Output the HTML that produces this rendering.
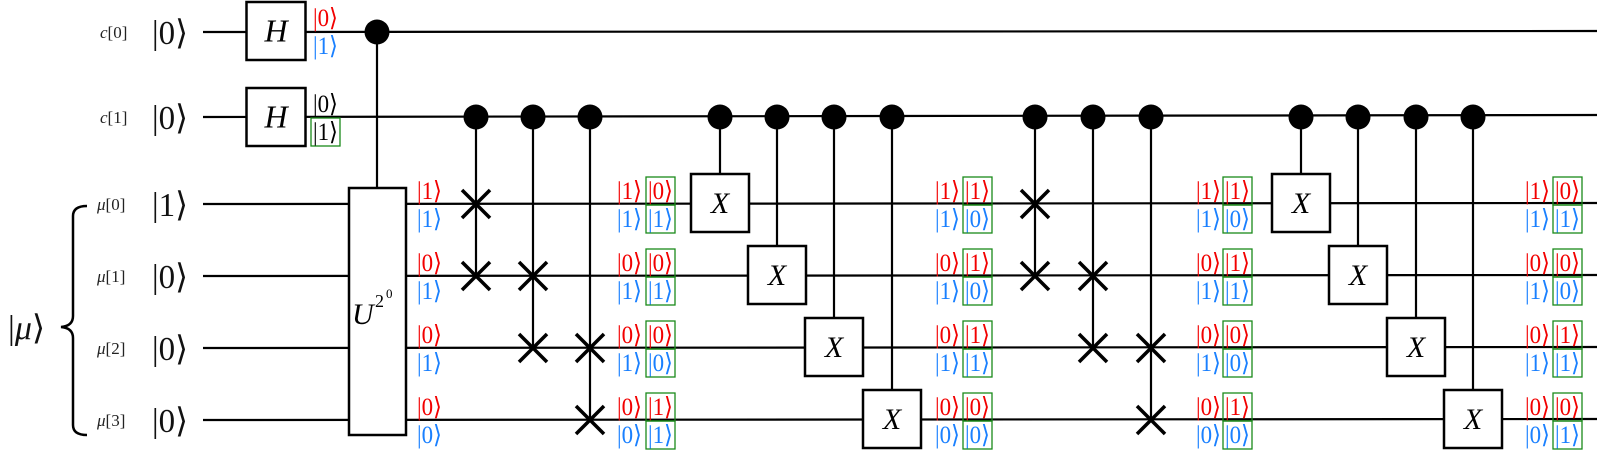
<!DOCTYPE html>
<html><head><meta charset="utf-8"><style>
html,body{margin:0;padding:0;background:#fff;width:1600px;height:450px;overflow:hidden}
svg text{font-family:"Liberation Serif","DejaVu Serif",serif}
</style></head><body>
<svg id="s" width="1600" height="450" xmlns="http://www.w3.org/2000/svg">
<g stroke="#000" stroke-width="2.2" fill="none">
<line x1="203" y1="32" x2="1597" y2="31"/>
<line x1="203" y1="117" x2="1597" y2="115"/>
<line x1="203" y1="204" x2="1597" y2="203"/>
<line x1="203" y1="276" x2="1597" y2="275"/>
<line x1="203" y1="348" x2="1597" y2="347"/>
<line x1="203" y1="420" x2="1597" y2="419"/>
<path d="M87 206 Q73 206 73 216 L73 316 Q73 326 61 327 Q73 328 73 338 L73 425 Q73 435 87 435" stroke-width="2.5"/>
</g>
<g font-size="17" fill="#222">
<text x="100" y="38"><tspan font-style="italic">c</tspan>[0]</text><text x="100" y="123"><tspan font-style="italic">c</tspan>[1]</text>
<text x="97" y="210"><tspan font-style="italic">μ</tspan>[0]</text><text x="97" y="282"><tspan font-style="italic">μ</tspan>[1]</text>
<text x="97" y="354"><tspan font-style="italic">μ</tspan>[2]</text><text x="97" y="426"><tspan font-style="italic">μ</tspan>[3]</text>
</g>
<g font-size="34" fill="#111">
<text x="152" y="44" textLength="36" lengthAdjust="spacingAndGlyphs">|0⟩</text><text x="152" y="129" textLength="36" lengthAdjust="spacingAndGlyphs">|0⟩</text>
<text x="152" y="216" textLength="36" lengthAdjust="spacingAndGlyphs">|1⟩</text><text x="152" y="288" textLength="36" lengthAdjust="spacingAndGlyphs">|0⟩</text>
<text x="152" y="360" textLength="36" lengthAdjust="spacingAndGlyphs">|0⟩</text><text x="152" y="432" textLength="36" lengthAdjust="spacingAndGlyphs">|0⟩</text>
<text x="8" y="339">|<tspan font-style="italic">μ</tspan>⟩</text>
</g>
<g id="g"></g>
</svg>
<script>
var g=document.getElementById('g'),NS='http://www.w3.org/2000/svg';
function el(t,a,txt){var e=document.createElementNS(NS,t);for(var k in a)e.setAttribute(k,a[k]);if(txt!=null)e.textContent=txt;g.appendChild(e);return e;}
var W=[32,117,204,276,348,420];
function box(cx,cy,w,h,lab,fs){el('rect',{x:cx-w/2,y:cy-h/2,width:w,height:h,fill:'#fff',stroke:'#000','stroke-width':2.5});
 el('text',{x:cx,y:cy+fs*0.33,'text-anchor':'middle','font-size':fs,'font-style':'italic'},lab);}
function line(x1,y1,x2,y2,sw){el('line',{x1:x1,y1:y1,x2:x2,y2:y2,stroke:'#000','stroke-width':sw||2.2});}
function dot(x,y){el('circle',{cx:x,cy:y,r:12.5,fill:'#000'});}
function sx(x,y){line(x-14,y-14,x+14,y+14,3.5);line(x-14,y+14,x+14,y-14,3.5);}
function ket(x,y,v,c,bx){if(bx)el('rect',{x:x,y:y-27,width:29,height:28,fill:'none',stroke:'#1a8a1a','stroke-width':1.3});
 el('text',{x:x+2,y:y-5,'font-size':25,fill:c,textLength:25,lengthAdjust:'spacingAndGlyphs'},'|'+v+'⟩');}
function pair(x,wy,a,b,bx){ket(x,wy,a,'#f20000',bx);ket(x,wy+28,b,'#1a80ff',bx);}
box(276,31,59,58,'H',32);box(276,117,59,58,'H',32);
pair(311,31,0,1,false);
el('text',{x:313,y:112,'font-size':25,fill:'#000',textLength:25,lengthAdjust:'spacingAndGlyphs'},'|0⟩');
ket(311,145,1,'#000',true);
line(377,32,377,188);dot(377,32);
el('rect',{x:349,y:188,width:57,height:247,fill:'#fff',stroke:'#000','stroke-width':2.5});
el('text',{x:352,y:324,'font-size':30,'font-style':'italic'},'U');
el('text',{x:375,y:307,'font-size':18},'2');
el('text',{x:386,y:298,'font-size':13},'0');
[[476,2,3],[533,3,4],[590,4,5]].forEach(function(s){line(s[0],W[1],s[0],W[s[2]]);dot(s[0],W[1]);sx(s[0],W[s[1]]);sx(s[0],W[s[2]]);});
[720,777,834,892].forEach(function(x,i){line(x,W[1],x,W[2+i]);dot(x,W[1]);box(x,W[2+i]-1,58,58,'X',30);});
[[1035,2,3],[1093,3,4],[1151,4,5]].forEach(function(s){line(s[0],W[1],s[0],W[s[2]]);dot(s[0],W[1]);sx(s[0],W[s[1]]);sx(s[0],W[s[2]]);});
[1301,1358,1416,1473].forEach(function(x,i){line(x,W[1],x,W[2+i]);dot(x,W[1]);box(x,W[2+i]-1,58,58,'X',30);});
var plain=[[1,1],[0,1],[0,1],[0,0]];
function col(xp,xb,bvals){for(var i=0;i<4;i++){var y=W[2+i];pair(xp,y,plain[i][0],plain[i][1],false);if(bvals)pair(xb,y,bvals[i][0],bvals[i][1],true);}}
col(415,0,null);
col(615,646,[[0,1],[0,1],[0,0],[1,1]]);
col(933,963,[[1,0],[1,0],[1,1],[0,0]]);
col(1194,1223,[[1,0],[1,1],[0,0],[1,0]]);
col(1523,1553,[[0,1],[0,0],[1,1],[0,1]]);
</script>
</body></html>
